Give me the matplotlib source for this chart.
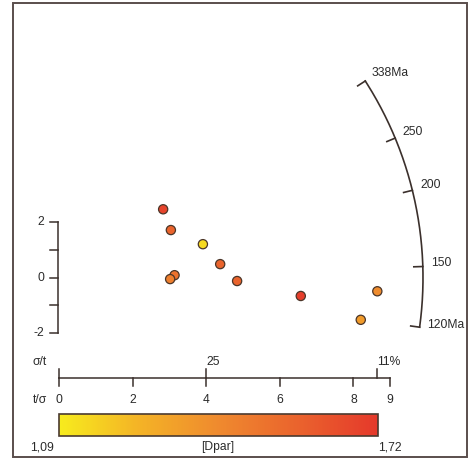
import numpy as np
import matplotlib
matplotlib.use('Agg')
import matplotlib.pyplot as plt
import matplotlib as mpl
from matplotlib.colors import LinearSegmentedColormap, Normalize
from matplotlib.patches import Rectangle

plt.rcParams['font.family'] = ['Liberation Sans', 'DejaVu Sans']

# ---- data ----
precision = [2.83, 3.04, 3.91, 4.38, 3.14, 3.02, 4.84, 6.57, 8.65, 8.20]   # t/sigma
zscore = [2.47, 1.72, 1.21, 0.49, 0.09, -0.05, -0.12, -0.66, -0.49, -1.52]
dpar = [1.68, 1.56, 1.14, 1.56, 1.50, 1.45, 1.56, 1.70, 1.40, 1.34]
central_age = 144.0
age_ticks = [120, 150, 200, 250, 338]
age_labels = ['120Ma', '150', '200', '250', '338Ma']
tsig_ticks = [0, 2, 4, 6, 8, 9]
sigt_ticks = [4, 8.65]
sigt_labels = ['25', '11%']
z_ticks = [-2, -1, 0, 1, 2]
z_labels = ['-2', '', '0', '', '2']
dpar_min, dpar_max = 1.09, 1.72

# ---- layout (pixel geometry) ----
W, H = 470, 459
X0, SX = 59.0, 36.8     # pixel of t/sigma = 0, pixels per unit
Y0, SY = 277.7, 27.7    # pixel of z = 0, pixels per unit
R = 364.0               # arc radius in pixels

fig = plt.figure(figsize=(W / 100, H / 100), dpi=100)
ax = fig.add_axes([0, 0, 1, 1])
ax.set_xlim(-X0 / SX, (W - X0) / SX)
ax.set_ylim((Y0 - H) / SY, Y0 / SY)
ax.axis('off')

def px(p):
    return (p - X0) / SX

def py(p):
    return (Y0 - p) / SY

lc = '#3b302c'
tc = '#2b2b2b'
fs = 8.7

# frame
fig.patches.append(Rectangle((13 / W, 1 - 457 / H), (467 - 13) / W, (457 - 3) / H,
                             transform=fig.transFigure, fill=False,
                             edgecolor='#5a4e4c', linewidth=1.4))

cmap = LinearSegmentedColormap.from_list(
    'yr', ['#f7ec1d', '#f4b326', '#ef8a2e', '#ea632d', '#e5392b'])
norm = Normalize(dpar_min, dpar_max)

# points
ax.scatter(precision, zscore, c=dpar, cmap=cmap, norm=norm, s=44,
           edgecolors='#4a3528', linewidths=0.9, zorder=5)

# y (z-score) bracket
xb = px(58)
ax.plot([xb, xb], [z_ticks[0], z_ticks[-1]], color=lc, lw=1.1)
for z, lab in zip(z_ticks, z_labels):
    ax.plot([px(50), xb], [z, z], color=lc, lw=1.1)
    if lab:
        ax.text(px(44), z, lab, ha='right', va='center', fontsize=fs, color=tc)

# t/sigma axis
yl = py(378)
ax.plot([tsig_ticks[0], tsig_ticks[-1]], [yl, yl], color=lc, lw=1.1)
for t in tsig_ticks:
    ax.plot([t, t], [yl, py(386)], color=lc, lw=1.1)
    ax.text(t, py(400), f'{t:g}', ha='center', va='center', fontsize=fs, color=tc)
for t, lab in zip([0] + sigt_ticks, [''] + sigt_labels):
    ax.plot([t, t], [yl, py(369)], color=lc, lw=1.1)
    if lab:
        ax.text(t, py(362), lab, ha='left', va='center', fontsize=fs, color=tc)
ax.text(px(40), py(362), 'σ/t', ha='center', va='center', fontsize=fs, color=tc)
ax.text(px(40), py(400), 't/σ', ha='center', va='center', fontsize=fs, color=tc)

# age arc
z0 = np.log(central_age)

def phi_of(age):
    return np.arctan((np.log(age) - z0) * SY / SX)

def pt(phi, r):
    return r * np.cos(phi) / SX, r * np.sin(phi) / SY

phis = np.linspace(phi_of(age_ticks[0]), phi_of(age_ticks[-1]), 200)
ax.plot(*pt(phis, R), color=lc, lw=1.2)
for a, lab in zip(age_ticks, age_labels):
    ph = phi_of(a)
    x1, y1 = pt(ph, R)
    x2, y2 = pt(ph, R - 9)
    ax.plot([x1, x2], [y1, y2], color=lc, lw=1.2)
    xt, yt = pt(ph, R + 8)
    ax.text(xt, yt + 0.12, lab, ha='left', va='center', fontsize=fs, color=tc)

# colour bar
cax = fig.add_axes([58.5 / W, 1 - 436 / H, (377.7 - 58.5) / W, (436 - 413.5) / H])
cb = mpl.colorbar.ColorbarBase(cax, cmap=cmap, norm=norm, orientation='horizontal')
cb.set_ticks([])
cb.outline.set_edgecolor('#4a3a30')
cb.outline.set_linewidth(1.2)
ax.text(px(42), py(447), '1,09', ha='center', va='center', fontsize=fs, color=tc)
ax.text(px(218), py(447), '[Dpar]', ha='center', va='center', fontsize=fs, color=tc)
ax.text(px(390), py(447), '1,72', ha='center', va='center', fontsize=fs, color=tc)

fig.savefig('out.png', dpi=100)
